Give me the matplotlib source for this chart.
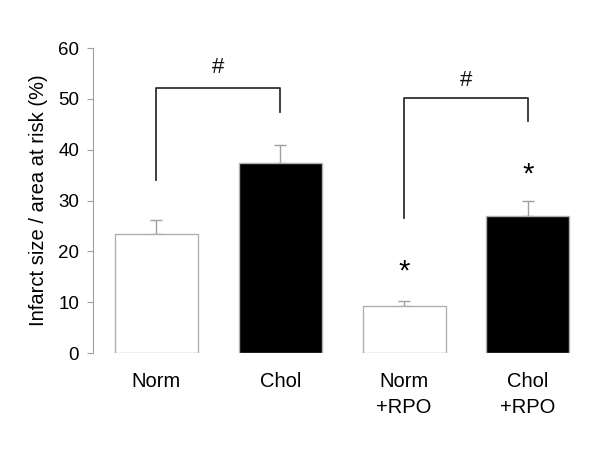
import matplotlib
matplotlib.use("Agg")
import matplotlib.pyplot as plt

categories = ["Norm", "Chol", "Norm\n+RPO", "Chol\n+RPO"]
values = [23.4, 37.3, 9.2, 26.9]
errors = [2.8, 3.6, 1.0, 3.0]
fill_colors = ["white", "black", "white", "black"]
yticks = [0, 10, 20, 30, 40, 50, 60]

# brackets: (left x, right x, left bottom, top, right bottom, hash y)
brackets = [(0, 1, 34.0, 52.1, 47.4, 56.1), (2, 3, 26.6, 50.2, 45.6, 53.6)]
stars = [(2, 16.0), (3, 35.2)]

plt.rcParams['font.family'] = ['Liberation Sans', 'DejaVu Sans']

fig = plt.figure(figsize=(6, 4.67), dpi=100)
ax = fig.add_axes([0.155, 0.244, 0.828, 0.653])

x = list(range(len(categories)))
ax.bar(x, values, width=0.67, color=fill_colors, edgecolor="#b0b0b0", linewidth=1.0, zorder=2)
ax.errorbar(x, values, yerr=[[0]*4, errors], fmt="none", ecolor="#a0a0a0",
            elinewidth=1.0, capsize=4, capthick=1.0, zorder=1)

for (l, r, lb, top, rb, hy) in brackets:
    ax.plot([l, l, r, r], [lb, top, top, rb], color="#303030", lw=1.3, zorder=3)
    ax.text((l + r) / 2, hy, "#", ha="center", va="center", fontsize=16, color="#111111")

for (sx, sy) in stars:
    ax.text(sx, sy, "*", ha="center", va="center", fontsize=21, color="black")

ax.set_xlim(-0.512, 3.5)
ax.set_ylim(0, 60)
ax.set_yticks(yticks)
ax.set_xticks(x)
ax.set_xticklabels(categories, fontsize=14.5, linespacing=1.45)
ax.tick_params(axis="x", length=0, pad=14)
ax.tick_params(axis="y", labelsize=13.5, color="#a0a0a0", length=4, pad=6)
for s in ["top", "right", "bottom"]:
    ax.spines[s].set_visible(False)
ax.spines["left"].set_color("#a0a0a0")
ax.set_ylabel("Infarct size / area at risk (%)", fontsize=14.5, labelpad=7)

fig.savefig("out.png", dpi=100)
